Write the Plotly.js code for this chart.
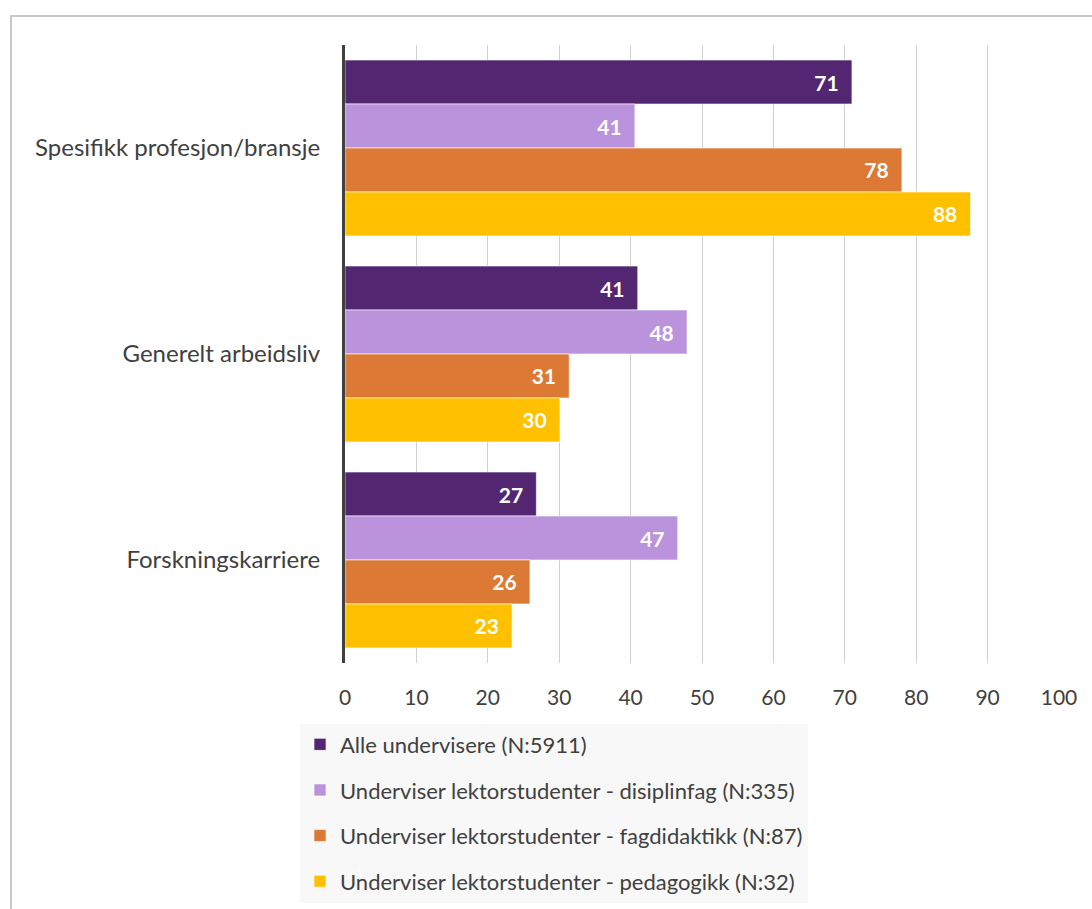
<!DOCTYPE html>
<html><head><meta charset="utf-8">
<script src="https://cdn.plot.ly/plotly-3.0.1.min.js"></script>
<style>
body{margin:0;background:#fff;overflow:hidden;}
#frame{position:absolute;left:10px;top:15px;width:1200px;height:1000px;border:2px solid #c9c9c9;box-sizing:border-box;}
#chart{position:absolute;left:0;top:0;width:1092px;height:909px;}
</style></head><body>
<div id="frame"></div>
<div id="chart"></div>
<script>
const categories = ["Spesifikk profesjon/bransje", "Generelt arbeidsliv", "Forskningskarriere"];
const seriesNames = [
  "Alle undervisere (N:5911)",
  "Underviser lektorstudenter - disiplinfag (N:335)",
  "Underviser lektorstudenter - fagdidaktikk (N:87)",
  "Underviser lektorstudenter - pedagogikk (N:32)"
];
const alle = [71.0, 41.0, 26.8];
const disiplinfag = [40.6, 47.9, 46.6];
const fagdidaktikk = [78.0, 31.4, 25.9];
const pedagogikk = [87.6, 30.1, 23.4];
const colors = ["#532672", "#bb93dc", "#db7935", "#ffc000"];
const seriesValues = [alle, disiplinfag, fagdidaktikk, pedagogikk];

const traces = seriesValues.map((vals, i) => ({
  type: "bar",
  orientation: "h",
  name: seriesNames[i],
  legendgroup: "g" + i,
  y: categories,
  x: vals,
  marker: {color: colors[i], line: {color: "rgba(255,255,255,0.6)", width: 1}},
  texttemplate: "%{x:.0f}  ",
  textposition: "inside",
  insidetextanchor: "end",
  textfont: {color: "#ffffff", size: 21, family: "Lato, 'Open Sans', sans-serif", weight: "bold"},
  hoverinfo: "x+name"
}));

const layout = {
  width: 1092, height: 909,
  paper_bgcolor: "rgba(0,0,0,0)",
  plot_bgcolor: "rgba(0,0,0,0)",
  margin: {l: 345, r: 33, t: 45, b: 246, autoexpand: false},
  font: {family: "Lato, 'Open Sans', sans-serif", color: "#404040"},
  barmode: "group",
  bargap: 0.146,
  bargroupgap: 0,
  showlegend: true,
  xaxis: {
    range: [0, 100], dtick: 10, tick0: 0,
    showgrid: true, gridcolor: "#d0d0d0", gridwidth: 1,
    zeroline: false, showline: false,
    ticks: "", ticklen: 0,
    ticklabelstandoff: 20,
    tickfont: {size: 21, color: "#404040"},
    fixedrange: true
  },
  yaxis: {
    type: "category",
    autorange: "reversed",
    showline: true, linecolor: "#404040", linewidth: 3,
    showgrid: false, zeroline: false,
    ticks: "", ticklen: 0,
    tickfont: {size: 24, color: "#404040"},
    ticklabelstandoff: 17,
    fixedrange: true
  },
  legend: {
    x: -0.063, y: -0.098, xanchor: "left", yanchor: "top",
    bgcolor: "#f8f8f8",
    font: {size: 22, color: "#404040"},
    traceorder: "grouped",
    tracegroupgap: 14,
    itemwidth: 30
  }
};

Plotly.newPlot("chart", traces, layout, {displayModeBar: false, staticPlot: true});
</script>
</body></html>
